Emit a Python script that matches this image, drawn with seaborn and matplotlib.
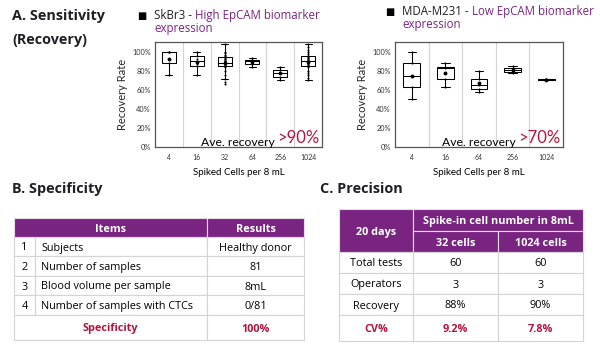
import matplotlib
matplotlib.use("Agg")
import matplotlib.pyplot as plt
import pandas as pd
import seaborn as sns
from matplotlib.patches import Rectangle

PURPLE = "#7a2482"
CRIMSON = "#b4143c"
DARK = "#1f1f24"
GRID = "#d4d4d4"

# --- recovery data (fractions) ---
skbr3_cells = ["4", "16", "32", "64", "256", "1024"]
skbr3_4 = [0.76, 0.88, 1.00, 1.00, 1.00]
skbr3_16 = [0.76, 0.85, 0.87, 0.93, 0.96, 1.00]
skbr3_32 = [0.66, 0.68, 0.72, 0.76, 0.80, 0.84, 0.85, 0.86, 0.87, 0.87, 0.88, 0.88,
            0.89, 0.90, 0.91, 0.92, 0.93, 0.94, 0.95, 0.96, 0.97, 0.99, 1.00, 1.08]
skbr3_64 = [0.84, 0.87, 0.91, 0.92, 0.94]
skbr3_256 = [0.70, 0.74, 0.78, 0.81, 0.84]
skbr3_1024 = [0.70, 0.73, 0.76, 0.78, 0.80, 0.84, 0.85, 0.86, 0.87, 0.88, 0.89, 0.90,
              0.90, 0.91, 0.92, 0.93, 0.94, 0.95, 0.96, 0.98, 1.00, 1.02, 1.05, 1.08]

mda_cells = ["4", "16", "64", "256", "1024"]
mda_4 = [0.50, 0.63, 0.75, 0.88, 1.00]
mda_16 = [0.63, 0.72, 0.83, 0.845, 0.88]
mda_64 = [0.58, 0.61, 0.65, 0.72, 0.80]
mda_256 = [0.78, 0.79, 0.81, 0.83, 0.85]
mda_1024 = [0.70, 0.705, 0.71, 0.715, 0.72]

# --- tables ---
spec_header = ["Items", "Results"]
spec_items = ["Subjects", "Number of samples", "Blood volume per sample",
              "Number of samples with CTCs"]
spec_results = ["Healthy donor", "81", "8mL", "0/81"]
spec_summary = ["Specificity", "100%"]

prec_corner = "20 days"
prec_group = "Spike-in cell number in 8mL"
prec_cols = ["32 cells", "1024 cells"]
prec_rows = ["Total tests", "Operators", "Recovery", "CV%"]
prec_32 = ["60", "3", "88%", "9.2%"]
prec_1024 = ["60", "3", "90%", "7.8%"]


def to_frame(cells, groups):
    rows = []
    for c, vals in zip(cells, groups):
        rows += [{"cells": c, "recovery": v} for v in vals]
    return pd.DataFrame(rows)


sns.set_theme(style="white")
plt.rcParams["font.family"] = ["Open Sans", "DejaVu Sans"]

fig = plt.figure(figsize=(6, 3.51), dpi=100)
W, H = 600, 351


def box_axes(x0, x1, y0, y1):
    return fig.add_axes([x0 / W, 1 - y1 / H, (x1 - x0) / W, (y1 - y0) / H])


def draw_recovery(ax, df, order, avg_text):
    for i in range(len(order) - 1):
        ax.axvline(i + 0.5, color=GRID, lw=0.8, zorder=0)
    sns.boxplot(data=df, x="cells", y="recovery", order=order, ax=ax,
                color="white", linecolor="black", linewidth=0.75, width=0.5,
                showfliers=False, showmeans=True,
                meanprops=dict(marker="o", markersize=1.8, markerfacecolor="black",
                               markeredgecolor="black"))
    sns.stripplot(data=df, x="cells", y="recovery", order=order, ax=ax,
                  jitter=False, size=1.5, color="black", linewidth=0)
    ax.set_ylim(0, 1.105)
    ax.set_xlim(-0.5, len(order) - 0.5)
    ax.set_yticks([0, 0.2, 0.4, 0.6, 0.8, 1.0])
    ax.set_yticklabels(["0%", "20%", "40%", "60%", "80%", "100%"])
    ax.tick_params(axis="y", labelsize=5.3, length=0, pad=3, colors="#333333")
    ax.tick_params(axis="x", labelsize=5, length=0, pad=5, colors="#333333")
    for lab in ax.get_xticklabels() + ax.get_yticklabels():
        lab.set_family("Lato")
    ax.set_xlabel("")
    ax.set_ylabel("Recovery Rate", fontsize=8, family="Lato", labelpad=3)
    for s in ax.spines.values():
        s.set_color("#555555")
        s.set_linewidth(0.9)
    t2 = ax.text(0.985, 0.04, avg_text, transform=ax.transAxes, ha="right",
                 va="baseline", color=CRIMSON, fontsize=12, family="Lato")
    return t2


ax1 = box_axes(155, 322, 42, 147)
ax2 = box_axes(395, 563, 42, 147)
df1 = to_frame(skbr3_cells, [skbr3_4, skbr3_16, skbr3_32, skbr3_64, skbr3_256, skbr3_1024])
df2 = to_frame(mda_cells, [mda_4, mda_16, mda_64, mda_256, mda_1024])
r1 = draw_recovery(ax1, df1, skbr3_cells, ">90%")
r2 = draw_recovery(ax2, df2, mda_cells, ">70%")

# overlay in pixel coordinates for headings and tables
ov = fig.add_axes([0, 0, 1, 1])
ov.set_xlim(0, W)
ov.set_ylim(H, 0)
ov.axis("off")
ov.patch.set_visible(False)

fig.canvas.draw()
rend = fig.canvas.get_renderer()


def runs(x, y, parts, size, weight="normal", family="Open Sans"):
    for text, color in parts:
        t = ov.text(x, y, text, fontsize=size, color=color, weight=weight,
                    family=family, va="baseline", ha="left")
        x += t.get_window_extent(rend).width
    return x


for r in (r1, r2):
    bb = r.get_window_extent(rend)
    ov.text(bb.x0 - 2, H - bb.y0, "Ave. recovery", ha="right", va="baseline",
            fontsize=8.7, family="Lato", color="black")

# chart subtitles
ov.text(137, 19, "■", fontsize=7, color="black", va="baseline", family="DejaVu Sans")
runs(154, 19, [("SkBr3 - ", DARK), ("High EpCAM biomarker", PURPLE)], 8.3)
runs(154, 32, [("expression", PURPLE)], 8.3)
ov.text(385, 15, "■", fontsize=7, color="black", va="baseline", family="DejaVu Sans")
runs(402, 15, [("MDA-M231 - ", DARK), ("Low EpCAM biomarker", PURPLE)], 8.3)
runs(402, 28, [("expression", PURPLE)], 8.3)

# x axis labels
for ax in (ax1, ax2):
    p = ax.get_position()
    ov.text((p.x0 + p.width / 2) * W, 175, "Spiked Cells per 8 mL", ha="center",
            va="baseline", fontsize=7, family="Lato", color="black")

# section headings
ov.text(12, 20, "A. Sensitivity", fontsize=10.4, weight="bold", color=DARK, va="baseline")
ov.text(12, 44, "(Recovery)", fontsize=10.4, weight="bold", color=DARK, va="baseline")
ov.text(12, 193, "B. Specificity", fontsize=10.4, weight="bold", color=DARK, va="baseline")
ov.text(320, 193, "C. Precision", fontsize=10.4, weight="bold", color=DARK, va="baseline")

TS = 7.8


def cell(x0, x1, y0, y1, fill="white"):
    ov.add_patch(Rectangle((x0, y0), x1 - x0, y1 - y0, facecolor=fill,
                           edgecolor=GRID if fill == "white" else "#e8dcea", lw=0.8))


def ctext(x, y0, y1, s, color="black", weight="normal", ha="center"):
    ov.text(x, (y0 + y1) / 2, s, ha=ha, va="center_baseline", fontsize=TS,
            color=color, weight=weight)


# Table B
bx = [14, 35, 207, 304]
by = [218, 237, 256, 276, 295, 315, 340]
cell(bx[0], bx[2], by[0], by[1], PURPLE)
cell(bx[2], bx[3], by[0], by[1], PURPLE)
ctext((bx[0] + bx[2]) / 2, by[0], by[1], spec_header[0], "white", "bold")
ctext((bx[2] + bx[3]) / 2, by[0], by[1], spec_header[1], "white", "bold")
for i, (item, res) in enumerate(zip(spec_items, spec_results)):
    y0, y1 = by[i + 1], by[i + 2]
    cell(bx[0], bx[1], y0, y1)
    cell(bx[1], bx[2], y0, y1)
    cell(bx[2], bx[3], y0, y1)
    ctext((bx[0] + bx[1]) / 2, y0, y1, str(i + 1))
    ctext(bx[1] + 6, y0, y1, item, ha="left")
    ctext((bx[2] + bx[3]) / 2, y0, y1, res)
cell(bx[0], bx[2], by[5], by[6])
cell(bx[2], bx[3], by[5], by[6])
ctext((bx[0] + bx[2]) / 2, by[5], by[6], spec_summary[0], CRIMSON, "bold")
ctext((bx[2] + bx[3]) / 2, by[5], by[6], spec_summary[1], CRIMSON, "bold")

# Table C
cx = [339, 413, 498, 583]
cy = [209, 231, 252, 273, 294, 315, 341]
cell(cx[0], cx[1], cy[0], cy[2], PURPLE)
cell(cx[1], cx[3], cy[0], cy[1], PURPLE)
cell(cx[1], cx[2], cy[1], cy[2], PURPLE)
cell(cx[2], cx[3], cy[1], cy[2], PURPLE)
ctext((cx[0] + cx[1]) / 2, cy[0], cy[2], prec_corner, "white", "bold")
ctext((cx[1] + cx[3]) / 2, cy[0], cy[1], prec_group, "white", "bold")
ctext((cx[1] + cx[2]) / 2, cy[1], cy[2], prec_cols[0], "white", "bold")
ctext((cx[2] + cx[3]) / 2, cy[1], cy[2], prec_cols[1], "white", "bold")
for i, (lab, a, b) in enumerate(zip(prec_rows, prec_32, prec_1024)):
    y0, y1 = cy[i + 2], cy[i + 3]
    last = i == len(prec_rows) - 1
    col = CRIMSON if last else "black"
    wt = "bold" if last else "normal"
    for j in range(3):
        cell(cx[j], cx[j + 1], y0, y1)
    ctext((cx[0] + cx[1]) / 2, y0, y1, lab, col, wt)
    ctext((cx[1] + cx[2]) / 2, y0, y1, a, col, wt)
    ctext((cx[2] + cx[3]) / 2, y0, y1, b, col, wt)

fig.savefig("out.png", dpi=100)
